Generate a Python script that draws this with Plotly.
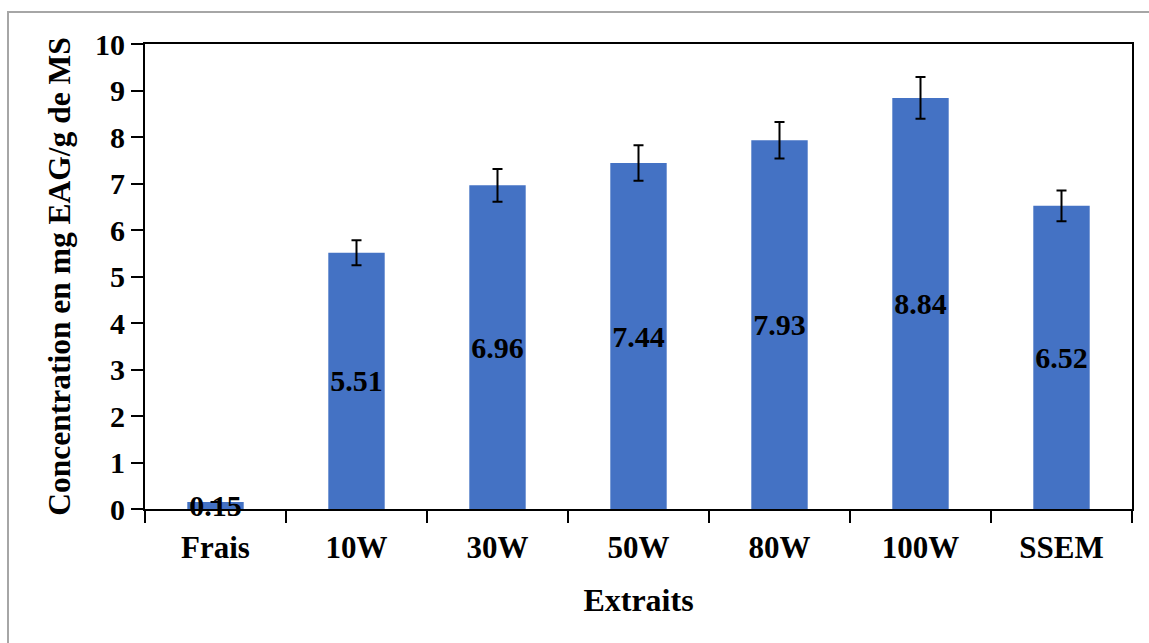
import plotly.graph_objects as go

# Teneur en polyphénols par extrait (mg EAG/g de MS) avec écarts-types
extraits = ["Frais", "10W", "30W", "50W", "80W", "100W", "SSEM"]
concentrations = [0.15, 5.51, 6.96, 7.44, 7.93, 8.84, 6.52]
ecarts_types = [None, 0.27, 0.35, 0.38, 0.39, 0.45, 0.33]

FONT = "Times New Roman, Liberation Serif, serif"

fig = go.Figure(
    go.Bar(
        x=extraits,
        y=concentrations,
        marker=dict(color="#4472C4", line=dict(width=0)),
        error_y=dict(type="data", array=ecarts_types, visible=True,
                     color="black", thickness=2, width=5),
        text=[f"{v:.2f}" for v in concentrations],
        textposition="inside",
        insidetextanchor="middle",
        constraintext="none",
        textangle=0,
        textfont=dict(family=FONT, size=30, color="black", weight="bold"),
        cliponaxis=False,
    )
)

fig.update_layout(
    width=1149,
    height=643,
    margin=dict(l=145, r=17, t=44, b=134),
    paper_bgcolor="white",
    plot_bgcolor="white",
    bargap=0.6,
    showlegend=False,
    font=dict(family=FONT, size=30, color="black", weight="bold"),
)

fig.update_xaxes(
    type="category",
    tickson="boundaries",
    ticks="outside",
    ticklen=12,
    tickwidth=2,
    tickcolor="black",
    ticklabelstandoff=10,
    showline=True,
    linecolor="black",
    linewidth=2,
    mirror=True,
    showgrid=False,
    tickfont=dict(family=FONT, size=31, color="black", weight="bold"),
    title=dict(text="Extraits", standoff=24,
               font=dict(family=FONT, size=32, color="black", weight="bold")),
)

fig.update_yaxes(
    range=[0, 10],
    dtick=1,
    ticks="outside",
    ticklen=12,
    tickwidth=2,
    tickcolor="black",
    showline=True,
    linecolor="black",
    linewidth=2,
    mirror=True,
    showgrid=False,
    zeroline=False,
    tickfont=dict(family=FONT, size=30, color="black", weight="bold"),
    title=dict(text="Concentration en mg EAG/g de MS", standoff=15,
               font=dict(family=FONT, size=31.5, color="black", weight="bold")),
)

# Cadre gris autour du graphique
fig.add_shape(
    type="rect", xref="paper", yref="paper",
    x0=-0.1388, x1=1.03, y0=-0.30, y1=1.0688,
    line=dict(color="#A6A6A6", width=2), fillcolor="rgba(0,0,0,0)",
    layer="below",
)

fig.write_html("out.html")
